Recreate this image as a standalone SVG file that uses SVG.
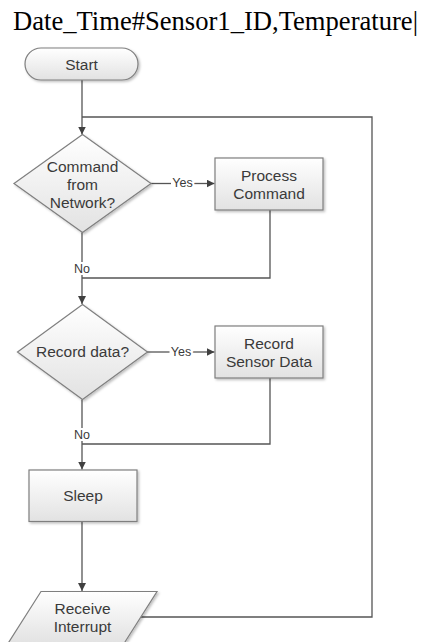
<svg xmlns="http://www.w3.org/2000/svg" width="421" height="642" viewBox="0 0 421 642">
<style>
.shape{fill:url(#g);stroke:#7f7f7f;stroke-width:1.2;filter:url(#sh)}
.lbl{font-family:"Liberation Sans",Arial,sans-serif;font-size:15.5px;fill:#3a3a3a;text-anchor:middle;dominant-baseline:central}
.sm{font-family:"Liberation Sans",Arial,sans-serif;font-size:12.5px;fill:#3a3a3a;text-anchor:middle;dominant-baseline:central;stroke:#fff;stroke-width:4;paint-order:stroke}
.ln{fill:none;stroke:#555;stroke-width:1.3}
.arr{marker-end:url(#ah)}
</style>
<defs>
<linearGradient id="g" x1="0" y1="0" x2="0" y2="1">
<stop offset="0" stop-color="#ffffff"/>
<stop offset="1" stop-color="#e2e2e2"/>
</linearGradient>
<filter id="sh" x="-10%" y="-10%" width="130%" height="130%">
<feDropShadow dx="1.5" dy="1.5" stdDeviation="1.2" flood-color="#000" flood-opacity="0.25"/>
</filter>
<marker id="ah" markerUnits="userSpaceOnUse" markerWidth="9" markerHeight="9" refX="8" refY="4" orient="auto">
<path d="M0,0 L8,4 L0,8 z" fill="#404040"/>
</marker>
</defs>
<rect width="421" height="642" fill="#fff"/>
<text x="13" y="30" font-family="Liberation Serif, serif" font-size="26.6" fill="#000">Date_Time#Sensor1_ID,Temperature|</text>
<g id="connectors">
<path class="ln arr" d="M82,80 V134.5"/>
<path class="ln" d="M140.5,617 H372 V117 H82"/>
<path class="ln" d="M150.5,183.5 H171"/>
<path class="ln arr" d="M194,183.5 H214.5"/>
<path class="ln arr" d="M82,232.5 V304"/>
<path class="ln" d="M270,210 V278 H82"/>
<path class="ln" d="M147,352 H169.5"/>
<path class="ln arr" d="M192.5,352 H214.5"/>
<path class="ln arr" d="M82,399.5 V469.5"/>
<path class="ln" d="M270,378 V444 H82"/>
<path class="ln arr" d="M82,521.5 V591"/>
<text class="sm" x="182.5" y="183">Yes</text>
<text class="sm" x="181" y="351.5">Yes</text>
<text class="sm" x="82" y="268.5">No</text>
<text class="sm" x="82" y="434.5">No</text>
</g>
<g id="start">
<rect class="shape" x="25" y="48" width="113" height="32" rx="16"/>
<text class="lbl" x="81.5" y="64">Start</text>
</g>
<g id="cmd-decision">
<polygon class="shape" points="82.5,134.5 151,183.5 82.5,232.5 14,183.5"/>
<text class="lbl" x="82.5" y="166.5">Command</text>
<text class="lbl" x="82.5" y="184.5">from</text>
<text class="lbl" x="82.5" y="202.5">Network?</text>
</g>
<g id="process-command">
<rect class="shape" x="215" y="158" width="108" height="52"/>
<text class="lbl" x="269" y="175">Process</text>
<text class="lbl" x="269" y="193">Command</text>
</g>
<g id="record-decision">
<polygon class="shape" points="82.5,304.5 147.5,352 82.5,399.5 17.5,352"/>
<text class="lbl" x="82.5" y="351.5">Record data?</text>
</g>
<g id="record-sensor">
<rect class="shape" x="215" y="326" width="108" height="52"/>
<text class="lbl" x="269" y="343">Record</text>
<text class="lbl" x="269" y="361">Sensor Data</text>
</g>
<g id="sleep">
<rect class="shape" x="29" y="470" width="108" height="51.5"/>
<text class="lbl" x="83" y="495.5">Sleep</text>
</g>
<g id="receive-interrupt">
<polygon class="shape" points="41,591.5 157,591.5 124,643.5 8,643.5"/>
<text class="lbl" x="82.5" y="608.5">Receive</text>
<text class="lbl" x="82.5" y="626.5">Interrupt</text>
</g>
</svg>
